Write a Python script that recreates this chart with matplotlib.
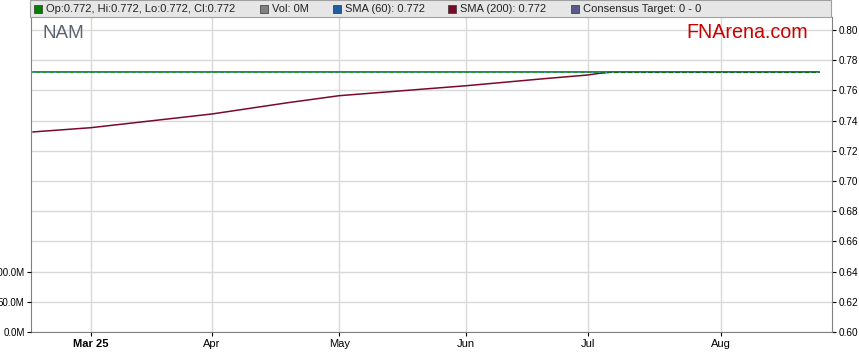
import numpy as np
import matplotlib
matplotlib.use("Agg")
import matplotlib.pyplot as plt
from matplotlib.patches import Rectangle

plt.rcParams['font.family'] = ['Liberation Sans', 'DejaVu Sans']

# data (weekday axis)
dates = ['2025-02-17', '2025-03-03', '2025-04-01', '2025-04-18', '2025-05-01',
         '2025-05-21', '2025-06-02', '2025-06-19', '2025-07-01', '2025-07-03',
         '2025-07-07', '2025-08-26']
close = [0.772, 0.772, 0.772, 0.772, 0.772, 0.772, 0.772, 0.772, 0.772, 0.772, 0.772, 0.772]
sma60 = [0.772, 0.772, 0.772, 0.772, 0.772, 0.772, 0.772, 0.772, 0.772, 0.772, 0.772, 0.772]
sma200 = [0.7325, 0.7353, 0.7444, 0.7518, 0.7565, 0.7607, 0.7631, 0.7676, 0.7702, 0.7713, 0.772, 0.772]
month_ticks = ['2025-03-03', '2025-04-01', '2025-05-01', '2025-06-02', '2025-07-01', '2025-08-01']
month_labels = ['Mar 25', 'Apr', 'May', 'Jun', 'Jul', 'Aug']
price_ticks = [0.60, 0.62, 0.64, 0.66, 0.68, 0.70, 0.72, 0.74, 0.76, 0.78, 0.80]
vol_ticks = [0, 50e6, 100e6]
vol_labels = ['0.0M', '50.0M', '100.0M']
legend_items = [('Op:0.772, Hi:0.772, Lo:0.772, Cl:0.772', '#008000'),
                ('Vol: 0M', '#808080'),
                ('SMA (60): 0.772', '#1f5f9f'),
                ('SMA (200): 0.772', '#7a0a2a'),
                ('Consensus Target: 0 - 0', '#5a5a8a')]

start = np.datetime64('2025-02-17')
def wd(d):
    return np.busday_count(start, np.array(d, dtype='datetime64[D]'))

x = wd(dates)

fig = plt.figure(figsize=(8.59, 3.63), dpi=100)
ax = fig.add_axes([31 / 859, 31 / 363, (832 - 31) / 859, (332 - 17) / 363])

# volume axis on the left (created first so it does not move the price ticks)
vax = ax.twinx()
vax.yaxis.tick_left()
vax.set_ylim(0, 50e6 * (332 - 17) / 30.2)
vax.set_yticks(vol_ticks)
vax.set_yticklabels(vol_labels)
vax.tick_params(axis='y', labelsize=7, length=3, width=0.8, pad=1.5)
for s in vax.spines.values():
    s.set_visible(False)

ax.plot(x, sma200, color='#7a0a2a', lw=1.1, zorder=3)
ax.plot(x, close, color='#008000', lw=1.2, zorder=4)
ax.plot(x, sma60, color='#4a90d9', lw=0.7, dashes=(2, 5), zorder=5)

ax.set_xlim(-0.35, wd('2025-08-26') + 2.3)
ax.set_ylim(0.60, 0.60 + 0.02 * (332 - 17) / 30.2)
ax.yaxis.tick_right()
ax.set_yticks(price_ticks)
ax.set_yticklabels([f'{t:.2f}' for t in price_ticks])
ax.set_xticks(wd(month_ticks))
ax.set_xticklabels(month_labels)
ax.get_xticklabels()[0].set_fontweight('bold')
ax.tick_params(axis='both', labelsize=7.2, length=3, width=0.8, colors='black', pad=1.5)
ax.tick_params(axis='x', labelsize=8, pad=2)
ax.grid(True, color='#d9d9d9', lw=1)
ax.set_axisbelow(True)
for s in ['left', 'right', 'bottom']:
    ax.spines[s].set_color('#808080')
ax.spines['top'].set_visible(False)

# header band
fig.patches.append(Rectangle((30 / 859, 1 - 17 / 363), (831 - 30) / 859, 17 / 363,
                             transform=fig.transFigure, facecolor='#e6e6e6',
                             edgecolor='#a0a0a0', lw=0.8))
xs = [34, 260, 333, 448, 571]
for (label, col), px in zip(legend_items, xs):
    fig.patches.append(Rectangle((px / 859, 1 - 13 / 363), 8 / 859, 8 / 363,
                                 transform=fig.transFigure, facecolor=col,
                                 edgecolor='#333333', lw=0.5))
    fig.text((px + 12) / 859, 1 - 9 / 363, label, fontsize=8, va='center', color='#222222')

fig.text(42 / 859, 1 - 33 / 363, 'NAM', fontsize=13.6, color='#5a6470', va='center')
fig.text(808 / 859, 1 - 33 / 363, 'FNArena.com', fontsize=14.2, color='#cc0000',
         va='center', ha='right')

fig.savefig('out.png', dpi=100)
